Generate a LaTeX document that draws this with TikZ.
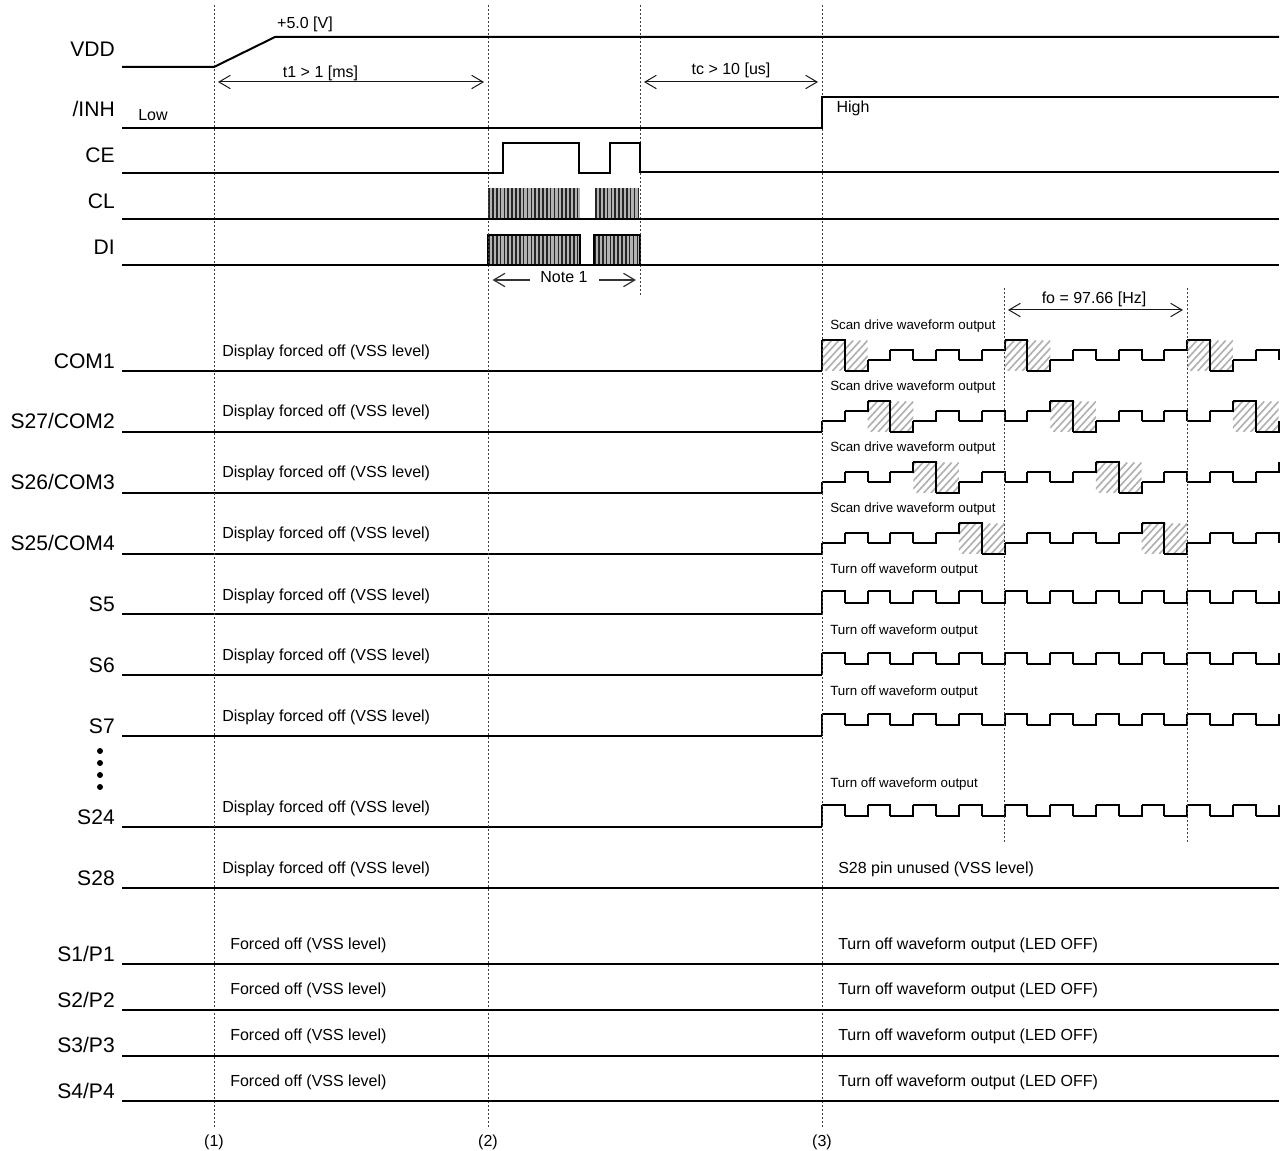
\documentclass[tikz,border=0pt]{standalone}
\usepackage{fontspec}
\setmainfont{Liberation Sans}
\usetikzlibrary{arrows.meta}
\tikzset{
  wave/.style={line width=1.5pt,black,line cap=square,line join=miter},
  base/.style={line width=1.5pt,black},
  guide/.style={line width=0.75pt,black!75,dash pattern=on 1.5pt off 1.5pt},
  span/.style={line width=0.75pt,black!90,{Straight Barb[length=8.5pt,width=10pt,line width=0.75pt]}-{Straight Barb[length=8.5pt,width=10pt,line width=0.75pt]}},
  note/.style={line width=0.9pt,black!80,-{Straight Barb[length=8.5pt,width=10pt,line width=0.9pt]}},
  sig/.style={inner sep=0pt,anchor=base east,font=\fontsize{15.8}{18}\selectfont},
  txt/.style={inner sep=0pt,anchor=base west,font=\fontsize{12}{14}\selectfont},
  tiny/.style={inner sep=0pt,anchor=base west,font=\fontsize{10}{12}\selectfont},
  ctr/.style={inner sep=0pt,anchor=base,font=\fontsize{12}{14}\selectfont},
  burstline/.style={line width=1.2pt,black!85},
  burstfill/.style={fill=black!30},
  hatchline/.style={line width=1.25pt,black!30},
}
\newcommand{\hatchbox}[3]{% x0 x1 ybase
  \begin{scope}
    \clip (#1,#3-30.5) rectangle (#2,#3);
    \foreach \d in {-40,-32.8,...,60}
      \draw[hatchline] (#1+\d,#3) -- (#1+\d+28,#3-30.5);
  \end{scope}}
\newcommand{\scanwave}[3]{% base, offset, end tick target (relative)
  \draw[base] (122,#1) -- (822,#1);
  \foreach \n in {0,1,2}{
    \pgfmathsetmacro{\ha}{822+22.83*(#2+8*\n)}
    \pgfmathsetmacro{\hb}{min(1279,\ha+45.66)}
    \pgfmathparse{\ha<1270?1:0}
    \ifnum\pgfmathresult=1 \hatchbox{\ha}{\hb}{#1}\fi
  }
  \foreach \i in {0,...,19}{
    \pgfmathtruncatemacro{\m}{mod(\i+8-#2,8)}
    \pgfmathtruncatemacro{\k}{mod(\i+9-#2,8)}
    \pgfmathsetmacro{\la}{{-30.5,0,-10.5,-20.5,-10.5,-20.5,-10.5,-20.5}[\m]}
    \pgfmathsetmacro{\lb}{{-30.5,0,-10.5,-20.5,-10.5,-20.5,-10.5,-20.5}[\k]}
    \pgfmathsetmacro{\xa}{822+22.83*\i}
    \pgfmathsetmacro{\xb}{822+22.83*(\i+1)}
    \ifnum\i<19
      \draw[wave] (\xa,#1+\la) -- (\xb,#1+\la) -- (\xb,#1+\lb);
    \else
      \draw[wave] (\xa,#1+\la) -- (1279,#1+\la) -- (1279,#1+#3);
    \fi
  }
  \pgfmathtruncatemacro{\z}{mod(8-#2,8)}
  \pgfmathsetmacro{\lz}{{-30.5,0,-10.5,-20.5,-10.5,-20.5,-10.5,-20.5}[\z]}
  \draw[wave] (822,#1) -- (822,#1+\lz);
}
\newcommand{\offwave}[1]{%
  \draw[base] (122,#1) -- (822,#1);
  \draw[wave] (822,#1) -- (822,#1-22.5);
  \foreach \i in {0,...,19}{
    \pgfmathtruncatemacro{\m}{mod(\i,2)}
    \pgfmathsetmacro{\xa}{822+22.83*\i}
    \pgfmathsetmacro{\xb}{min(1279,822+22.83*(\i+1))}
    \ifnum\m=0
      \draw[wave] (\xa,#1-22.5) -- (\xb,#1-22.5) -- (\xb,#1-11);
    \else
      \draw[wave] (\xa,#1-11) -- (\xb,#1-11) -- (\xb,#1-22.5);
    \fi
  }
}
\newcommand{\burst}[5]{% x0 x1 ytop ybot step
  \fill[burstfill] (#1,#3) rectangle (#2,#4);
  \pgfmathsetmacro{\nx}{#1+#5}
  \foreach \x in {#1,\nx,...,#2}
    \draw[burstline] (\x+1,#3) -- (\x+1,#4);
}
\begin{document}
\begin{tikzpicture}[x=0.75pt,y=-0.75pt]
\useasboundingbox (0,0) rectangle (1282,1151);
\fill[white] (0,0) rectangle (1282,1151);

% bursts
\burst{488}{580}{188}{219}{3.85}
\burst{595}{638}{188}{219}{3.85}
\burst{488}{580}{235}{265}{3.85}
\burst{594}{640}{235}{265}{3.85}
\draw[base] (488,265) -- (488,235) -- (580,235) -- (580,265);
\draw[base] (594,265) -- (594,235) -- (640,235) -- (640,265);

% scan and off waves
\scanwave{371}{0}{-10.5}
\scanwave{432}{2}{-10.5}
\scanwave{493}{4}{-30.5}
\scanwave{554}{6}{-10.5}
\offwave{614}
\offwave{675}
\offwave{736}
\offwave{827}

% guides
\coordinate (g1t) at (214,5);   \coordinate (g1b) at (214,1128);
\coordinate (g2t) at (488,5);   \coordinate (g2b) at (488,1128);
\coordinate (g3t) at (640,5);   \coordinate (g3b) at (640,296);
\coordinate (g4t) at (822,5);   \coordinate (g4b) at (822,1128);
\coordinate (g5t) at (1004.6,288); \coordinate (g5b) at (1004.6,843);
\coordinate (g6t) at (1187,288); \coordinate (g6b) at (1187,843);
\foreach \a/\b in {g1t/g1b,g2t/g2b,g3t/g3b,g4t/g4b,g5t/g5b,g6t/g6b}
  \draw[guide] (\a) -- (\b);

% top signals
\draw[base,line join=round] (122,67) -- (214,67) -- (275,37) -- (1279,37);
\draw[base] (122,128) -- (822,128) -- (822,97) -- (1279,97);
\draw[base] (122,173) -- (503,173) -- (503,143) -- (579,143) -- (579,173) -- (610,173) -- (610,143) -- (640,143) -- (640,172.5) -- (1279,172.5);
\draw[base] (122,219) -- (1279,219);
\draw[base] (122,265) -- (1279,265);

% flat lines
\foreach \y in {888,964,1010,1056,1101}
  \draw[base] (122,\y) -- (1279,\y);

% span arrows
\coordinate (a1l) at (218,82);  \coordinate (a1r) at (484,82);
\coordinate (a2l) at (644,82);  \coordinate (a2r) at (818,82);
\coordinate (a3l) at (1008,310); \coordinate (a3r) at (1183,310);
\draw[span] (a1l) -- (a1r);
\draw[span] (a2l) -- (a2r);
\draw[span] (a3l) -- (a3r);
\coordinate (n1a) at (530,280); \coordinate (n1b) at (492.5,280);
\coordinate (n2a) at (599,280); \coordinate (n2b) at (636,280);
\draw[note] (n1a) -- (n1b);
\draw[note] (n2a) -- (n2b);

% signal labels
\foreach \nm/\lab/\y in {a/VDD/57,b/{/INH}/117,c/CE/163,d/CL/209,e/DI/255,f/COM1/369,g/{S27/COM2}/429,h/{S26/COM3}/490,i/{S25/COM4}/551,j/S5/612,k/S6/672,l/S7/733,m/S24/824,n/S28/885,o/{S1/P1}/961,p/{S2/P2}/1007,q/{S3/P3}/1052,r/{S4/P4}/1098}
  \node[sig] (sig\nm) at (115,\y) {\lab};

% dots
\foreach \y in {751,763,775,787}
  \fill (100,\y) circle[radius=3];

% display forced off
\foreach \nm/\y in {a/357,b/417,c/478,d/539,e/600,f/660,g/721,h/812,i/873}
  \node[txt] (dfo\nm) at (222,\y) {Display forced off (VSS level)};
\foreach \nm/\y in {a/949,b/994,c/1040,d/1086}
  \node[txt] (fo\nm) at (230,\y) {Forced off (VSS level)};
\foreach \nm/\y in {a/949,b/994,c/1040,d/1086}
  \node[txt] (led\nm) at (838,\y) {Turn off waveform output (LED OFF)};
\node[txt] (unused) at (838,873) {S28 pin unused (VSS level)};
\foreach \nm/\y in {a/330,b/391,c/452,d/513}
  \node[tiny] (scan\nm) at (830,\y) {Scan drive waveform output};
\foreach \nm/\y in {a/574,b/634,c/695,d/787}
  \node[tiny] (toff\nm) at (830,\y) {Turn off waveform output};

% misc
\node[ctr] (plus) at (305,29) {+5.0 [V]};
\node[ctr] (t1) at (320.5,78) {t1 > 1 [ms]};
\node[ctr] (tc) at (731,75) {tc > 10 [us]};
\node[ctr] (low) at (153,121) {Low};
\node[ctr] (high) at (853,113) {High};
\node[ctr] (note1) at (564,283) {Note 1};
\node[ctr] (fo) at (1094,304) {fo = 97.66 [Hz]};
\node[ctr] (m1) at (214,1146) {(1)};
\node[ctr] (m2) at (488,1146) {(2)};
\node[ctr] (m3) at (822,1146) {(3)};
\end{tikzpicture}
\end{document}
